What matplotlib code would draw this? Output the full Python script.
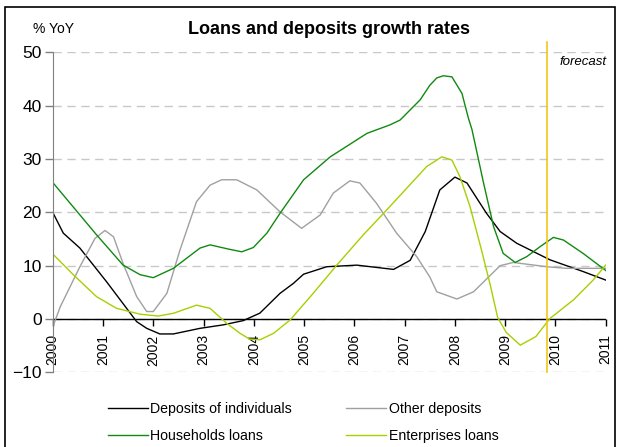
import matplotlib
matplotlib.use("Agg")
import matplotlib.pyplot as plt
from matplotlib.patches import Rectangle

plt.rcParams['font.family'] = ['Liberation Sans', 'DejaVu Sans']

# growth rates, % YoY
dep_x = [2000.0, 2000.21, 2000.54, 2001.07, 2001.67, 2001.87, 2002.13, 2002.4, 2002.93, 2003.39,
         2003.79, 2004.12, 2004.52, 2004.79, 2004.99, 2005.45, 2006.05, 2006.78, 2007.11, 2007.41,
         2007.7, 2008.0, 2008.24, 2008.63, 2008.9, 2009.23, 2009.89, 2010.55, 2011.0]
dep_y = [20.0, 16.1, 13.3, 7.0, -0.5, -1.75, -2.8, -2.8, -1.75, -1.1,
         -0.3, 1.1, 4.8, 6.7, 8.4, 9.8, 10.1, 9.3, 11.0, 16.4,
         24.2, 26.6, 25.5, 19.8, 16.4, 14.2, 11.1, 8.9, 7.3]

oth_x = [2000.0, 2000.15, 2000.54, 2000.84, 2001.04, 2001.21, 2001.4, 2001.67, 2001.87, 2002.0,
         2002.27, 2002.53, 2002.86, 2003.13, 2003.36, 2003.66, 2004.06, 2004.52, 2004.95, 2005.32,
         2005.58, 2005.91, 2006.11, 2006.44, 2006.84, 2007.24, 2007.5, 2007.64, 2008.04, 2008.37,
         2008.9, 2009.16, 2009.83, 2010.22, 2011.0]
oth_y = [-1.5, 2.3, 9.8, 15.1, 16.6, 15.4, 10.4, 4.2, 1.4, 1.4,
         4.8, 12.9, 22.0, 25.1, 26.1, 26.1, 24.2, 20.1, 17.0, 19.5,
         23.6, 25.9, 25.5, 21.7, 16.1, 11.7, 7.9, 5.1, 3.75, 5.1,
         10.0, 10.6, 9.8, 9.5, 9.5]

hh_x = [2000.0, 2000.87, 2001.4, 2001.74, 2002.0, 2002.4, 2002.93, 2003.13, 2003.5, 2003.76,
        2003.99, 2004.26, 2004.52, 2004.99, 2005.52, 2006.25, 2006.71, 2006.91, 2007.11, 2007.31,
        2007.5, 2007.64, 2007.77, 2007.94, 2008.14, 2008.27, 2008.34, 2008.57, 2008.77, 2008.96,
        2009.2, 2009.43, 2009.7, 2009.96, 2010.16, 2010.55, 2011.0]
hh_y = [25.6, 15.8, 10.1, 8.3, 7.75, 9.5, 13.3, 13.9, 13.1, 12.6,
        13.4, 16.1, 19.8, 26.1, 30.4, 34.8, 36.4, 37.3, 39.2, 41.1,
        43.8, 45.2, 45.6, 45.4, 42.3, 37.6, 35.5, 25.5, 17.3, 12.3,
        10.6, 11.7, 13.6, 15.3, 14.8, 12.3, 9.1]

ent_x = [2000.0, 2000.41, 2000.87, 2001.27, 2001.74, 2002.1, 2002.4, 2002.86, 2003.13, 2003.46,
         2003.73, 2003.92, 2004.12, 2004.39, 2004.72, 2005.18, 2005.65, 2006.18, 2006.58, 2007.04,
         2007.44, 2007.74, 2007.94, 2008.1, 2008.3, 2008.53, 2008.7, 2008.85, 2009.02, 2009.3,
         2009.61, 2009.89, 2010.36, 2010.75, 2011.0]
ent_y = [12.2, 8.3, 4.2, 2.0, 0.9, 0.56, 1.07, 2.6, 2.0, -0.8,
         -2.7, -3.8, -3.9, -2.7, -0.2, 4.8, 10.1, 15.8, 19.8, 24.5,
         28.6, 30.4, 29.8, 26.7, 21.1, 12.9, 6.5, 0.3, -2.5, -4.9,
         -3.3, 0.1, 3.6, 7.3, 10.1]

years = list(range(2000, 2012))
forecast_start = 2009.84

fig = plt.figure(figsize=(6.24, 4.47), dpi=100)
ax = fig.add_axes([0.0845, 0.167, 0.8862, 0.716])

l_dep, = ax.plot(dep_x, dep_y, color='black', lw=1.0, label='Deposits of individuals')
l_oth, = ax.plot(oth_x, oth_y, color='#a0a0a0', lw=1.0, label='Other deposits')
l_hh, = ax.plot(hh_x, hh_y, color='#108a10', lw=1.0, label='Households loans')
l_ent, = ax.plot(ent_x, ent_y, color='#a6d000', lw=1.0, label='Enterprises loans')

ax.set_xlim(2000, 2011)
ax.set_ylim(-10, 50)
ax.set_yticks(range(-10, 51, 10))
ax.yaxis.grid(True, ls=(0, (6, 4)), color='#c8c8c8', lw=1.0)
ax.set_axisbelow(True)

# zero line doubles as the x axis
ax.axhline(0, color='black', lw=1.0, zorder=1.5)
ax.spines['bottom'].set_position(('data', 0))
ax.spines['bottom'].set_visible(False)
for s in ['top', 'right']:
    ax.spines[s].set_visible(False)
ax.spines['left'].set_color('#808080')

ax.set_xticks(years)
ax.set_xticklabels([str(y) for y in years], rotation=90, fontsize=10)
ax.tick_params(axis='x', direction='out', length=5, width=1, color='black', pad=6)
ax.tick_params(axis='y', direction='out', length=6, width=1, color='#808080',
               labelsize=12.5, pad=2)

# forecast marker
ax.plot([forecast_start, forecast_start], [-10, 52], color='#f5c518', lw=1.2,
        clip_on=False, zorder=3)
ax.text(2010.09, 48.2, 'forecast', fontsize=9.5, style='italic', va='center', ha='left')

fig.text(329 / 624, 1 - 30 / 447, 'Loans and deposits growth rates', ha='center', va='center',
         fontsize=13, fontweight='bold')
fig.text(33 / 624, 1 - 29 / 447, '% YoY', ha='left', va='center', fontsize=10)

# column-wise fill: deposits on the first row, loans on the second
fig.legend([l_dep, l_hh, l_oth, l_ent],
           ['Deposits of individuals', 'Households loans', 'Other deposits', 'Enterprises loans'],
           loc='upper left', bbox_to_anchor=(108 / 624, 1 - 402 / 447), ncol=2,
           frameon=False, fontsize=10.2, handlelength=2.8, handletextpad=0.2,
           columnspacing=3.8, labelspacing=0.9, borderpad=0, borderaxespad=0)

fig.patches.append(Rectangle((5 / 624, -0.1), 610 / 624, 1.1 - 7 / 447, transform=fig.transFigure,
                             fill=False, edgecolor='black', lw=1.2))

fig.savefig('out.png', dpi=100)
